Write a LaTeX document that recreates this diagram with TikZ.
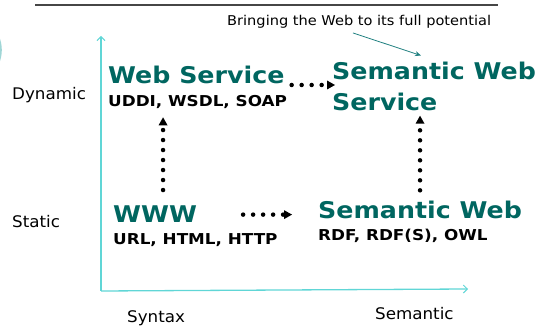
\documentclass[tikz,border=0pt]{standalone}
\usepackage{fontspec}
\setmainfont{DejaVu Sans}
\newfontfamily\headfont[FakeStretch=1.10]{DejaVu Sans}
\newfontfamily\subfont[FakeStretch=1.12]{DejaVu Sans}
\newfontfamily\labelfont[FakeStretch=1.045]{DejaVu Sans}
\newfontfamily\notefont[FakeStretch=1.08]{DejaVu Sans}
\usetikzlibrary{arrows.meta,calc}
\definecolor{teal1}{RGB}{0,102,96}
\definecolor{axiscol}{RGB}{96,214,214}
\definecolor{callout}{RGB}{32,128,128}
\definecolor{rulecol}{RGB}{70,70,70}
\definecolor{arccol}{RGB}{160,214,214}
\tikzset{
  head/.style={inner sep=0pt, text=teal1, font={\headfont\fontsize{23}{31}\selectfont\bfseries}},
  subtext/.style={inner sep=0pt, text=black, font={\subfont\fontsize{15}{18}\selectfont\bfseries}},
  axislabel/.style={inner sep=0pt, text=black, font={\labelfont\fontsize{16}{19}\selectfont}},
  notetext/.style={inner sep=0pt, text=black, font={\notefont\fontsize{13.5}{16}\selectfont}},
  dotarrow/.style={line width=4.5pt, line cap=round, dash pattern=on 0pt off 10pt,
    -{Triangle[length=8pt,width=9pt,line width=0pt]}},
  axisline/.style={axiscol, line width=1.3pt, -{Straight Barb[length=4pt,width=8pt,line width=1pt]}},
}
\begin{document}
\begin{tikzpicture}[x=1pt,y=-1pt]
\useasboundingbox (0,0) rectangle (550,328);
% decorative arc at the left edge
\draw[arccol, line width=1.6pt] (-34,50) circle[radius=35];
% top rule
\coordinate (r1) at (35,5);
\coordinate (r2) at (498,5);
\draw[rulecol, line width=1.2pt] (r1) -- (r2);
% axes
\coordinate (origin) at (101,291);
\coordinate (ytop) at (101,36);
\coordinate (xend) at (468,289);
\draw[axisline] (origin) -- (ytop);
\draw[axisline] (origin) -- (xend);
% axis labels
\node[axislabel, anchor=base west] (dyn) at (12,100) {Dynamic};
\node[axislabel, anchor=base west] (sta) at (12,228) {Static};
\node[axislabel, anchor=base west] (syn) at (127,323) {Syntax};
\node[axislabel, anchor=base west] (sem) at (375,320) {Semantic};
% note
\node[notetext, anchor=base west] (note) at (227,26) {Bringing the Web to its full potential};
% main items
\node[head, anchor=base west] (ws) at (108,84) {Web Service};
\node[subtext, anchor=base west] (wsp) at (108,107) {UDDI, WSDL, SOAP};
\node[head, anchor=north west, align=left] (sws) at (332,61.5) {Semantic Web\\Service};
\node[head, anchor=base west] (www) at (113,223) {WWW};
\node[subtext, anchor=base west] (wwwp) at (113,245) {URL, HTML, HTTP};
\node[head, anchor=base west] (sw) at (318,219) {Semantic Web};
\node[subtext, anchor=base west] (swp) at (318,241) {RDF, RDF(S), OWL};
% callout arrow
\coordinate (ca) at (353,33);
\draw[callout, line width=0.8pt, -{Stealth[length=6pt,width=5pt]}] (ca) -- ($(sws.north west)+(89,-6)$);
% dotted arrows
\draw[dotarrow, shorten <=7pt, shorten >=-3pt] ([yshift=-1pt]ws.base east) -- ([yshift=-1pt]sws.west |- ws.base east);
\draw[dotarrow, shorten <=46pt, shorten >=26pt] (www.east) -- (www.east -| sw.west);
\draw[dotarrow, shorten <=16pt, shorten >=8pt] ([xshift=8pt]www.north) -- ([xshift=8pt]www.north |- wsp.south);
\draw[dotarrow, shorten <=11pt, shorten >=5pt] (sw.north) -- (sw.north |- sws.south);
\end{tikzpicture}
\end{document}
